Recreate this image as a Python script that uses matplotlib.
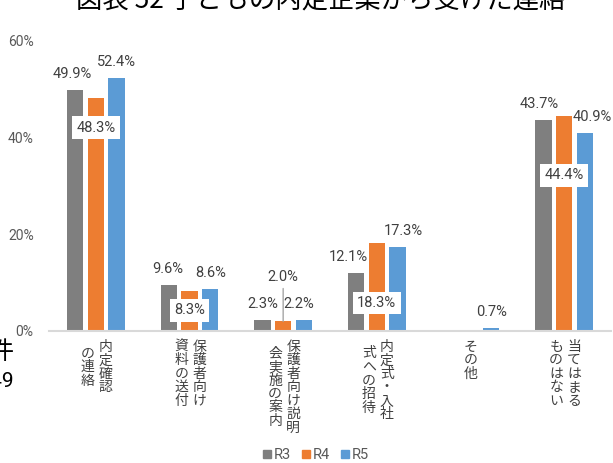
import matplotlib

matplotlib.use("Agg")
import matplotlib.pyplot as plt
import numpy as np
from matplotlib.patches import Rectangle

# ---- data ---------------------------------------------------------------
categories = [
    "内定確認\nの連絡",
    "保護者向け\n資料の送付",
    "保護者向け説明\n会実施の案内",
    "内定式・入社\n式への招待",
    "その他",
    "当てはまる\nものはない",
]
series_names = ["R3", "R4", "R5"]
r3 = [49.9, 9.6, 2.3, 12.1, np.nan, 43.7]
r4 = [48.3, 8.3, 2.0, 18.3, np.nan, 44.4]
r5 = [52.4, 8.6, 2.2, 17.3, 0.7, 40.9]
y_ticks = [0, 20, 40, 60]

# ---- styling / layout ---------------------------------------------------
colors = ["#7f7f7f", "#ed7d31", "#5b9bd5"]
W, H = 613, 463
NUM_FONT = "Roboto"
JP_FONT = ["Noto Sans CJK JP", "DejaVu Sans"]
TXT = "#404040"

# label placement tweaks (pixels / data-y)
r3_dx = [-3, -1, 0, -8, 0, -4]
r5_dx = [0, 0, -5, 6, 0, 7]
r4_label_y = [42.1, 4.3, 11.1, 5.8, None, 32.2]
r4_boxed = [True, True, False, True, False, True]

fig = plt.figure(figsize=(W / 100, H / 100), dpi=100)
ax = fig.add_axes([49 / W, 1 - 331 / H, 562 / W, 290 / H])

x = np.arange(len(categories))
bw, step = 0.176, 0.221
for i, (vals, c) in enumerate(zip([r3, r4, r5], colors)):
    ax.bar(x + (i - 1) * step, vals, width=bw, color=c, zorder=2)

ax.set_xlim(-0.5, len(categories) - 0.5)
ax.set_ylim(0, 60)
ax.set_yticks(y_ticks)
ax.set_yticklabels([f"{t}%" for t in y_ticks], fontsize=10, color="#595959",
                   family=NUM_FONT)
ax.tick_params(axis="y", length=0, pad=11)
ax.set_xticks([])
for s in ["top", "right", "left"]:
    ax.spines[s].set_visible(False)
ax.spines["bottom"].set_color("#d9d9d9")
ax.spines["bottom"].set_linewidth(1.5)

PT = 0.72  # px -> points at dpi 100
LBL = dict(ha="center", va="center", fontsize=10.5, family=NUM_FONT, color=TXT)

# value labels
for xi, v, dx in zip(x, r3, r3_dx):
    if np.isnan(v):
        continue
    ax.annotate(f"{v:.1f}%", (xi - step, v), xytext=(dx * PT, 16 * PT),
                textcoords="offset points", zorder=4, **LBL)
for xi, v, dx in zip(x, r5, r5_dx):
    if np.isnan(v):
        continue
    ax.annotate(f"{v:.1f}%", (xi + step, v), xytext=(dx * PT, 16 * PT),
                textcoords="offset points", zorder=4, **LBL)
for xi, v, ly, boxed in zip(x, r4, r4_label_y, r4_boxed):
    if np.isnan(v):
        continue
    if boxed:
        ax.text(xi, ly, f"{v:.1f}%", zorder=5,
                bbox=dict(boxstyle="square,pad=0.3", fc="white", ec="none"), **LBL)
    else:
        ax.annotate(f"{v:.1f}%", (xi, v), xytext=(xi, ly), zorder=5,
                    arrowprops=dict(arrowstyle="-", color="#a6a6a6", lw=1,
                                    shrinkA=1, shrinkB=0), **LBL)

# vertical (tategaki) category labels, first column on the right
pitch = 13.5
for xi, cat in zip(x, categories):
    cols = cat.split("\n")
    nmax = max(len(c) for c in cols)
    ncol = len(cols)
    for ci, col in enumerate(cols):
        cx = (ncol - 1) / 2 * 18 - ci * 18 + (1 if ncol > 1 else 0)
        start = (nmax - len(col)) / 2 * pitch
        for k, ch in enumerate(col):
            cy = -(9 + pitch / 2 + start + k * pitch)
            ax.annotate(ch, (xi, 0), xycoords=("data", "axes fraction"),
                        xytext=(cx * PT, cy * PT), textcoords="offset points",
                        ha="center", va="center", fontsize=10, family=JP_FONT,
                        color=TXT, annotation_clip=False)

# legend
handles = [Rectangle((0, 0), 1, 1, color=c) for c in colors]
fig.legend(handles, series_names, loc="center", ncol=3,
           bbox_to_anchor=(316 / W, 1 - 455 / H), frameon=False,
           handlelength=0.5, handleheight=0.5, handletextpad=0.2,
           columnspacing=0.8, prop=dict(family=NUM_FONT, size=10.5),
           labelcolor="#595959")

# title (cut off at the top of the screenshot) and neighbouring fragments
fig.text(321 / W, 1 - 8 / H, "図表 52 子どもの内定企業から受けた連絡",
         ha="center", va="baseline", fontsize=19, family=JP_FONT, color="black")
fig.text(13 / W, 1 - 352 / H, "件", ha="right", va="center", fontsize=18,
         family=JP_FONT, color="black")
fig.text(14 / W, 1 - 381 / H, "n=1,049", ha="right", va="center", fontsize=15,
         family=NUM_FONT, color="black")

fig.savefig("out.png", dpi=100)
plt.close(fig)
